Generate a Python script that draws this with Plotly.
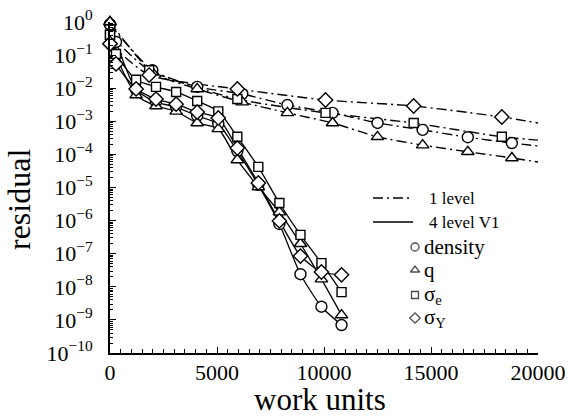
import plotly.graph_objects as go

# ---- 4 level V1 runs (solid lines) ----
work_4 = [0, 280, 1220, 2150, 3090, 4075, 5060, 5950, 6930, 7915, 8900, 9880, 10820]
density_4 = [0.85, 0.25, 0.0089, 0.0038, 0.0027, 0.00145, 8.3e-4, 1.26e-4, 1.2e-5, 7.9e-7, 2.4e-8, 2.5e-9, 7.0e-10]
q_4 = [1.0, 0.10, 0.0062, 0.0029, 0.0020, 8.9e-4, 5.9e-4, 6.8e-5, 1.04e-5, 1.8e-6, 2.0e-7, 1.7e-8, 1.4e-9]
sigma_e_4 = [0.41, 0.108, 0.018, 0.011, 0.0077, 0.0041, 0.0020, 3.4e-4, 4.2e-5, 3.4e-6, 3.7e-7, 5.2e-8, 6.9e-9]
sigma_y_4 = [0.22, 0.054, 0.0095, 0.0047, 0.0033, 0.0019, 0.00126, 1.55e-4, 1.37e-5, 9.8e-7, 8.5e-8, 2.8e-8, 2.3e-8]

# ---- 1 level runs (dash-dot lines); the final point of each carries no marker ----
work_1a = [0, 1975, 4075, 6180, 8290, 10400, 12500, 14610, 16720, 18780, 20000]
density_1 = [0.85, 0.035, 0.011, 0.0067, 0.0031, 0.0018, 8.9e-4, 5.5e-4, 3.3e-4, 2.2e-4, 1.8e-4]
q_1 = [1.0, 0.03, 0.0095, 0.0038, 0.0018, 8.9e-4, 3.4e-4, 1.9e-4, 1.2e-4, 7.8e-5, 5.9e-5]
work_1b = [0, 1830, 5950, 10070, 14190, 18310, 20000]
sigma_e_1 = [0.41, 0.035, 0.0047, 0.0018, 8.9e-4, 3.4e-4, 2.7e-4]
sigma_y_1 = [0.22, 0.025, 0.0095, 0.0044, 0.0029, 0.00135, 8.9e-4]

x_ticks = [0, 5000, 10000, 15000, 20000]
y_exponents = list(range(-10, 1))

FONT = "Liberation Serif, Times New Roman, serif"
BLACK = "#000000"
DASHDOT = "10px,4px,2px,4px"

series = [
    ("circle", density_4, density_1, work_1a, 11),
    ("triangle-up", q_4, q_1, work_1a, 11),
    ("square", sigma_e_4, sigma_e_1, work_1b, 9),
    ("diamond", sigma_y_4, sigma_y_1, work_1b, 11),
]

fig = go.Figure()

# lines first so the open markers sit on top of every curve
for sym, v4, v1, w1, size in series:
    fig.add_trace(go.Scatter(x=w1, y=v1, mode="lines",
                             line=dict(color=BLACK, width=1.4, dash=DASHDOT, shape="spline", smoothing=0.6),
                             showlegend=False, hoverinfo="skip"))
    fig.add_trace(go.Scatter(x=work_4, y=v4, mode="lines",
                             line=dict(color=BLACK, width=1.3, shape="spline", smoothing=0.6),
                             showlegend=False, hoverinfo="skip"))

for sym, v4, v1, w1, size in series:
    mk = dict(symbol=sym, size=size, color="white", line=dict(color=BLACK, width=1.4))
    fig.add_trace(go.Scatter(x=w1[:-1], y=v1[:-1], mode="markers", marker=mk,
                             cliponaxis=False, showlegend=False))
    fig.add_trace(go.Scatter(x=work_4, y=v4, mode="markers", marker=mk,
                             cliponaxis=False, showlegend=False))

# ---- hand-built key ----
L, R, T, B = 110, 538, 22, 353
def px(xp):
    return (xp - L) / (R - L)
def py(yp):
    return (B - yp) / (B - T)

key_symbols = ["circle", "triangle-up", "square", "diamond"]
key_labels = ["density", "q", "σ<sub>e</sub>", "σ<sub>Y</sub>"]
key_rows = [247, 270, 295, 318]
fig.add_trace(go.Scatter(x=[px(415)] * 4, y=[py(r) for r in key_rows], mode="markers",
                         xaxis="x2", yaxis="y2", cliponaxis=False, showlegend=False,
                         marker=dict(symbol=key_symbols, size=[8, 8, 7, 8], color="white",
                                     line=dict(color=BLACK, width=1.3))))

fig.add_shape(type="line", xref="paper", yref="paper", x0=px(373), x1=px(413), y0=py(198), y1=py(198),
              line=dict(color=BLACK, width=1.4, dash=DASHDOT))
fig.add_shape(type="line", xref="paper", yref="paper", x0=px(373), x1=px(413), y0=py(222), y1=py(222),
              line=dict(color=BLACK, width=1.4))

annotations = [
    dict(text="1 level", x=px(427), y=py(198), size=17),
    dict(text="4 level V1", x=px(427), y=py(222), size=17),
]
for lab, r in zip(key_labels, key_rows):
    annotations.append(dict(text=lab, x=px(422), y=py(r), size=21))
for a in annotations:
    fig.add_annotation(text=a["text"], x=a["x"], y=a["y"], xref="paper", yref="paper",
                       xanchor="left", yanchor="middle", showarrow=False,
                       font=dict(family=FONT, size=a["size"], color=BLACK))

# axis titles
fig.add_annotation(text="work units", x=px(320), y=py(418), xref="paper", yref="paper",
                   xanchor="center", yanchor="bottom", showarrow=False, borderpad=0,
                   font=dict(family=FONT, size=31, color=BLACK))
fig.add_annotation(text="residual", x=px(19), y=py(200), xref="paper", yref="paper",
                   xanchor="center", yanchor="middle", textangle=-90, showarrow=False,
                   font=dict(family=FONT, size=32, color=BLACK))

minor_y = [m * 10.0 ** e for e in range(-10, 0) for m in range(2, 10)]

fig.update_layout(
    template="none",
    width=568, height=418,
    margin=dict(l=L, r=568 - R, t=T, b=418 - B, autoexpand=False),
    paper_bgcolor="white", plot_bgcolor="white",
    font=dict(family=FONT, color=BLACK),
    xaxis=dict(range=[0, 20000], tickvals=x_ticks, ticktext=[str(t) for t in x_ticks],
               ticks="inside", ticklen=6, tickwidth=1.3, tickcolor=BLACK,
               showline=True, linecolor=BLACK, linewidth=1.8, mirror=False,
               showgrid=False, zeroline=False, ticklabelstandoff=-1,
               tickfont=dict(family=FONT, size=22, color=BLACK),
               minor=dict(dtick=500, ticks="inside", ticklen=4, tickwidth=1, tickcolor=BLACK, showgrid=False)),
    yaxis=dict(type="log", range=[-10, 0],
               tickvals=[10.0 ** e for e in y_exponents],
               ticktext=["10<sup>%s</sup>" % (str(e).replace("-", "\u2212")) for e in y_exponents],
               ticks="inside", ticklen=6, tickwidth=1.3, tickcolor=BLACK,
               showline=True, linecolor=BLACK, linewidth=1.8, mirror=False,
               showgrid=False, zeroline=False, ticklabelstandoff=11,
               tickfont=dict(family=FONT, size=22, color=BLACK),
               minor=dict(tickmode="array", tickvals=minor_y, ticks="inside", ticklen=3,
                          tickwidth=1, tickcolor=BLACK, showgrid=False)),
    xaxis2=dict(overlaying="x", range=[0, 1], visible=False),
    yaxis2=dict(overlaying="y", range=[0, 1], visible=False),
)

fig.write_html("out.html")
